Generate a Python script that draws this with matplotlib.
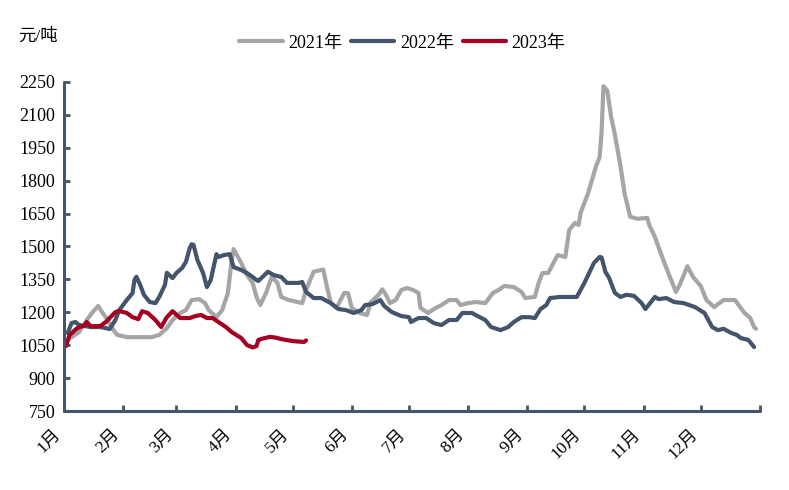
import matplotlib
matplotlib.use('Agg')
import matplotlib.pyplot as plt
from matplotlib.transforms import ScaledTranslation

plt.rcParams['font.family'] = ['Liberation Serif', 'Noto Sans CJK SC']
plt.rcParams['axes.unicode_minus'] = False

# 日期：一年中的第几天（0 = 1月1日）
days_2021 = [2, 4, 8, 12, 15, 18, 20, 23, 26, 28, 33, 40, 46, 50, 54, 57, 61, 64, 67, 71,
             74, 76, 80, 83, 86, 88, 89, 93, 96, 99, 101, 103, 106, 109, 112, 114, 118, 125, 127, 131,
             136, 138, 140, 143, 147, 149, 151, 155, 159, 161, 165, 167, 169, 171, 174, 177, 180, 183, 186, 187,
             191, 195, 198, 202, 206, 208, 212, 216, 221, 225, 228, 231, 236, 240, 242, 247, 249, 251, 254, 257,
             259, 263, 265, 268, 270, 271, 275, 279, 281, 282, 283, 285, 287, 289, 292, 294, 297, 301, 306, 307,
             310, 313, 317, 321, 323, 327, 330, 334, 337, 341, 346, 352, 355, 357, 360, 362, 363]
price_2021 = [1075, 1087, 1110, 1165, 1200, 1229, 1201, 1165, 1119, 1097, 1087, 1087, 1087, 1097, 1128, 1165, 1197, 1210, 1256, 1260,
              1242, 1210, 1178, 1210, 1288, 1439, 1488, 1425, 1370, 1334, 1270, 1233, 1288, 1361, 1334, 1270, 1256, 1242, 1302, 1385,
              1395, 1315, 1242, 1220, 1288, 1288, 1220, 1197, 1188, 1247, 1279, 1305, 1279, 1242, 1256, 1302, 1311, 1302, 1288, 1220,
              1197, 1220, 1233, 1256, 1256, 1233, 1242, 1247, 1242, 1288, 1302, 1320, 1315, 1293, 1265, 1270, 1334, 1379, 1379, 1429,
              1461, 1452, 1575, 1607, 1598, 1653, 1744, 1863, 1908, 2020, 2230, 2210, 2091, 2009, 1863, 1744, 1635, 1626, 1630, 1598,
              1543, 1470, 1379, 1293, 1325, 1410, 1361, 1320, 1256, 1224, 1256, 1256, 1220, 1197, 1174, 1133, 1125]

days_2022 = [2, 4, 6, 8, 14, 19, 22, 24, 27, 29, 33, 36, 37, 38, 40, 42, 45, 48, 50, 53,
             54, 57, 59, 62, 64, 66, 67, 68, 70, 73, 75, 77, 80, 81, 84, 87, 89, 93, 96, 99,
             101, 102, 107, 110, 114, 117, 123, 125, 127, 131, 135, 140, 144, 148, 152, 156, 158, 162, 166, 168,
             172, 177, 181, 182, 186, 190, 194, 198, 202, 206, 209, 214, 217, 221, 224, 229, 233, 236, 240, 244,
             247, 250, 253, 255, 260, 269, 273, 278, 281, 282, 284, 286, 289, 292, 295, 299, 303, 305, 310, 312,
             316, 320, 325, 331, 336, 340, 343, 346, 350, 353, 355, 359, 362]
price_2022 = [1106, 1151, 1156, 1142, 1133, 1133, 1128, 1124, 1165, 1210, 1256, 1288, 1347, 1362, 1325, 1279, 1247, 1242, 1270, 1325,
              1380, 1356, 1379, 1402, 1430, 1493, 1510, 1507, 1439, 1379, 1315, 1347, 1465, 1452, 1461, 1465, 1406, 1393, 1379, 1361,
              1347, 1343, 1385, 1370, 1361, 1334, 1334, 1338, 1293, 1265, 1265, 1242, 1215, 1210, 1197, 1210, 1233, 1238, 1256, 1229,
              1201, 1183, 1178, 1156, 1174, 1174, 1151, 1142, 1165, 1165, 1197, 1197, 1183, 1165, 1133, 1119, 1133, 1156, 1178, 1178,
              1174, 1215, 1233, 1265, 1270, 1270, 1334, 1425, 1452, 1450, 1385, 1356, 1288, 1270, 1280, 1275, 1242, 1215, 1270, 1260,
              1265, 1247, 1242, 1224, 1197, 1133, 1119, 1125, 1106, 1097, 1083, 1074, 1042]

days_2023 = [1, 3, 7, 11, 12, 14, 19, 22, 27, 29, 33, 36, 39, 41, 44, 48, 51, 54, 57, 61,
             66, 69, 72, 75, 78, 81, 85, 88, 93, 96, 99, 101, 102, 104, 108, 111, 114, 120, 126, 127]
price_2023 = [1046, 1097, 1128, 1142, 1156, 1137, 1137, 1156, 1201, 1206, 1197, 1178, 1169, 1205, 1197, 1165, 1133, 1178, 1205, 1174,
              1174, 1183, 1188, 1174, 1174, 1156, 1133, 1110, 1083, 1051, 1040, 1046, 1074, 1080, 1088, 1085, 1078, 1069, 1065, 1072]

month_starts = [0, 31, 59, 90, 120, 151, 181, 212, 243, 273, 304, 334, 365]
month_labels = ['1月', '2月', '3月', '4月', '5月', '6月', '7月', '8月', '9月', '10月', '11月', '12月']
yticks = list(range(750, 2251, 150))

spine_color = '#44546A'

fig = plt.figure(figsize=(7.89, 4.90), dpi=100)
ax = fig.add_axes([0.081, 0.161, 0.882, 0.672])

ax.plot(days_2021, price_2021, color='#A5A5A5', lw=3, solid_capstyle='round', solid_joinstyle='round', label='2021年')
ax.plot(days_2022, price_2022, color='#44546A', lw=3, solid_capstyle='round', solid_joinstyle='round', label='2022年')
ax.plot(days_2023, price_2023, color='#A50021', lw=3, solid_capstyle='round', solid_joinstyle='round', label='2023年')

ax.set_xlim(0, 365)
ax.set_ylim(750, 2250)
ax.set_yticks(yticks)
ax.set_xticks(month_starts)
ax.set_xticklabels(month_labels + [''], rotation=45, ha='right')

# 标签稍微右移
shift = ScaledTranslation(5 / 72, 0, fig.dpi_scale_trans)
for lbl in ax.get_xticklabels():
    lbl.set_transform(lbl.get_transform() + shift)

for s in ['top', 'right']:
    ax.spines[s].set_visible(False)
for s in ['left', 'bottom']:
    ax.spines[s].set_color(spine_color)
    ax.spines[s].set_linewidth(2.2)
    ax.spines[s].set_capstyle('round')

ax.tick_params(axis='y', direction='in', length=4, width=2, color=spine_color, labelsize=13, pad=6)
ax.tick_params(axis='x', direction='in', length=4, width=2, color=spine_color, labelsize=12.5, pad=11)

fig.text(0.023, 0.925, '元/吨', fontsize=12.5, va='center')
fig.legend(loc='center', bbox_to_anchor=(0.51, 0.912), ncol=3, frameon=False, fontsize=13,
           handlelength=2.4, handletextpad=0.3, columnspacing=0.5)

fig.savefig('out.png', dpi=100)
